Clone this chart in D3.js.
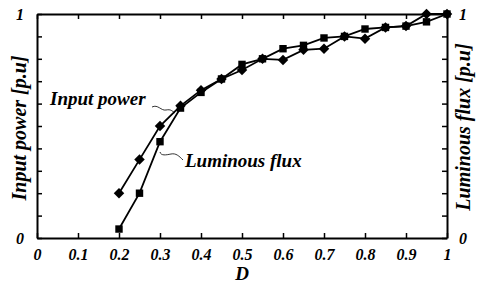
<!DOCTYPE html>
<html>
<head>
<meta charset="utf-8">
<script src="https://cdn.jsdelivr.net/npm/d3@7"></script>
<style>
  html, body { margin: 0; padding: 0; background: #fff; }
  svg { display: block; }
  text { font-family: "Liberation Serif", "DejaVu Serif", serif; font-weight: bold; font-style: italic; fill: #000; }
</style>
</head>
<body>
<svg id="chart" width="478" height="284"></svg>
<script>
// ---- data ----
const dutyRatio = [0.2, 0.25, 0.3, 0.35, 0.4, 0.45, 0.5, 0.55, 0.6, 0.65, 0.7, 0.75, 0.8, 0.85, 0.9, 0.95, 1.0];
const inputPower = [0.20, 0.35, 0.50, 0.59, 0.66, 0.71, 0.75, 0.80, 0.795, 0.84, 0.845, 0.90, 0.89, 0.94, 0.946, 1.0, 1.0];
const luminousFlux = [0.04, 0.20, 0.43, 0.58, 0.65, 0.71, 0.775, 0.80, 0.845, 0.86, 0.893, 0.90, 0.933, 0.94, 0.946, 0.965, 1.0];
const xTicks = [0, 0.1, 0.2, 0.3, 0.4, 0.5, 0.6, 0.7, 0.8, 0.9, 1];
const xTickLabels = ["0", "0.1", "0.2", "0.3", "0.4", "0.5", "0.6", "0.7", "0.8", "0.9", "1"];
const yTicks = [0, 0.1, 0.2, 0.3, 0.4, 0.5, 0.6, 0.7, 0.8, 0.9, 1];
const yTickLabels = ["0", "", "", "", "", "", "", "", "", "", "1"];

const svg = d3.select("#chart");
const L = 37, R = 447, T = 14, B = 238;
const x = d3.scaleLinear().domain([0, 1]).range([L, R]);
const y = d3.scaleLinear().domain([0, 1]).range([B, T]);

// axes (ticks inward)
const fmtX = (d, i) => xTickLabels[i];
const fmtY = (d, i) => yTickLabels[i];
const gB = svg.append("g").attr("transform", `translate(0,${B})`)
  .call(d3.axisBottom(x).tickValues(xTicks).tickFormat(fmtX).tickSizeInner(-5).tickSizeOuter(0).tickPadding(11));
const gT = svg.append("g").attr("transform", `translate(0,${T})`)
  .call(d3.axisTop(x).tickValues(xTicks).tickFormat("").tickSizeInner(-5).tickSizeOuter(0));
const gL = svg.append("g").attr("transform", `translate(${L},0)`)
  .call(d3.axisLeft(y).tickValues(yTicks).tickFormat(fmtY).tickSizeInner(-5).tickSizeOuter(0).tickPadding(13));
const gR = svg.append("g").attr("transform", `translate(${R},0)`)
  .call(d3.axisRight(y).tickValues(yTicks).tickFormat(fmtY).tickSizeInner(-5).tickSizeOuter(0).tickPadding(12));

[gB, gT, gL, gR].forEach(g => {
  g.select(".domain").attr("stroke", "#000").attr("stroke-width", 2);
  g.selectAll(".tick line").attr("stroke", "#000").attr("stroke-width", 1.5);
  g.selectAll(".tick text").attr("font-size", 16).attr("fill", "#000")
    .style("font-family", "'Liberation Serif', serif").style("font-weight", "bold").style("font-style", "italic");
});

// series lines
const line = d3.line().x((d, i) => x(dutyRatio[i])).y(d => y(d));
svg.append("path").datum(inputPower).attr("d", line)
  .attr("fill", "none").attr("stroke", "#000").attr("stroke-width", 1.8);
svg.append("path").datum(luminousFlux).attr("d", line)
  .attr("fill", "none").attr("stroke", "#000").attr("stroke-width", 1.8);

// markers
svg.append("g").selectAll("path").data(inputPower).join("path")
  .attr("d", d3.symbol().type(d3.symbolDiamond2).size(70))
  .attr("transform", (d, i) => `translate(${x(dutyRatio[i])},${y(d)})`)
  .attr("fill", "#000");
svg.append("g").selectAll("path").data(luminousFlux).join("path")
  .attr("d", d3.symbol().type(d3.symbolSquare).size(55))
  .attr("transform", (d, i) => `translate(${x(dutyRatio[i])},${y(d)})`)
  .attr("fill", "#000");

// annotations
svg.append("text").attr("x", 50).attr("y", 105).attr("font-size", 19).text("Input power");
svg.append("path").attr("d", "M152,107 C158,104 161,111 166,110 S172,111 175,113")
  .attr("fill", "none").attr("stroke", "#000").attr("stroke-width", 0.8);
svg.append("text").attr("x", 185).attr("y", 167).attr("font-size", 19).text("Luminous flux");
svg.append("path").attr("d", "M160,152 C161,156 166,155 171,154 S179,156 183,160")
  .attr("fill", "none").attr("stroke", "#000").attr("stroke-width", 0.8);

// axis titles
svg.append("text").attr("transform", `translate(26,128) rotate(-90)`)
  .attr("text-anchor", "middle").attr("font-size", 20).text("Input power [p.u]");
svg.append("text").attr("transform", `translate(470,127) rotate(-90)`)
  .attr("text-anchor", "middle").attr("font-size", 20).text("Luminous flux [p.u]");
svg.append("text").attr("x", x(0.5)).attr("y", 280).attr("text-anchor", "middle")
  .attr("font-size", 19).text("D");
</script>
</body>
</html>
